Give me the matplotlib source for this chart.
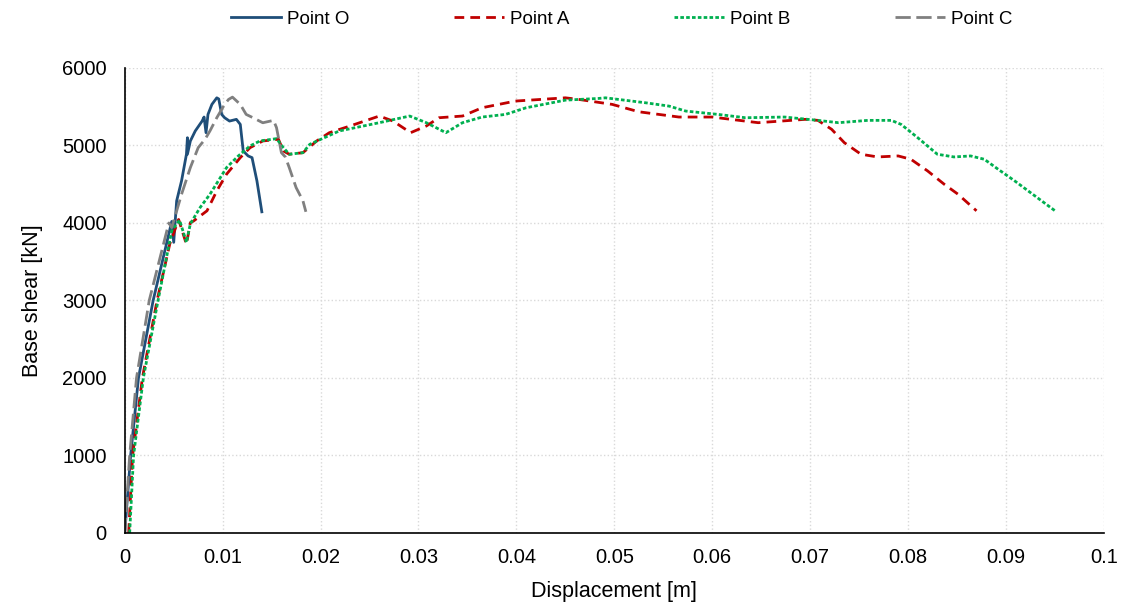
import numpy as np
import matplotlib.pyplot as plt

plt.rcParams['font.family'] = ['Liberation Sans', 'DejaVu Sans']

# Point O
o_x = [0, 0.0006, 0.0014, 0.0029, 0.0048, 0.0050, 0.0053, 0.0058, 0.0063, 0.0064, 0.0064,
       0.0067, 0.0072, 0.0079, 0.0081, 0.0083, 0.0085, 0.0089, 0.0094, 0.0096, 0.0099,
       0.0102, 0.0107, 0.0114, 0.0118, 0.0121, 0.0126, 0.0130, 0.0135, 0.0140]
o_y = [0, 1000, 2000, 3000, 4020, 3750, 4285, 4543, 4887, 5100, 4887,
       5058, 5187, 5315, 5367, 5165, 5401, 5530, 5615, 5600, 5401,
       5358, 5315, 5337, 5272, 4929, 4865, 4843, 4543, 4144]

# Point A
a_x = [0.0004, 0.0008, 0.0018, 0.0033, 0.0046, 0.0055, 0.0063, 0.0067, 0.0070, 0.0084,
       0.0094, 0.0104, 0.0118, 0.0128, 0.0141, 0.0157, 0.0162, 0.0168, 0.0182, 0.0196,
       0.0209, 0.0230, 0.0260, 0.0274, 0.0292, 0.0308, 0.0321, 0.0345, 0.0365, 0.0399,
       0.0450, 0.0464, 0.0498, 0.0525, 0.0566, 0.0600, 0.0647, 0.0695, 0.0708, 0.0722,
       0.0735, 0.0752, 0.0769, 0.0790, 0.0803, 0.0820, 0.0837, 0.0851, 0.0870]
a_y = [0, 1000, 2000, 3000, 3730, 4045, 3725, 4005, 4023, 4157,
       4414, 4630, 4843, 4972, 5058, 5080, 4929, 4887, 4907, 5058,
       5165, 5251, 5380, 5315, 5165, 5251, 5358, 5380, 5487, 5573,
       5615, 5594, 5530, 5435, 5367, 5367, 5294, 5337, 5324, 5209,
       5036, 4887, 4852, 4865, 4822, 4672, 4500, 4372, 4157]

# Point B
b_x = [0.0005, 0.0009, 0.0019, 0.0034, 0.0048, 0.0056, 0.0063, 0.0067, 0.0077, 0.0087,
       0.0104, 0.0116, 0.0128, 0.0138, 0.0155, 0.0162, 0.0168, 0.0182, 0.0189, 0.0219,
       0.0260, 0.0291, 0.0308, 0.0328, 0.0345, 0.0365, 0.0389, 0.0410, 0.0450, 0.0484,
       0.0491, 0.0532, 0.0556, 0.0573, 0.0606, 0.0634, 0.0674, 0.0708, 0.0729, 0.0759,
       0.0783, 0.0793, 0.0810, 0.0830, 0.0847, 0.0864, 0.0878, 0.0892, 0.0909, 0.0925,
       0.0951]
b_y = [0, 1000, 2000, 3000, 3900, 4037, 3750, 3990, 4200, 4370,
       4715, 4865, 4994, 5058, 5088, 4972, 4887, 4907, 5015, 5187,
       5294, 5380, 5294, 5165, 5294, 5367, 5401, 5487, 5585, 5607,
       5615, 5551, 5508, 5444, 5401, 5358, 5367, 5324, 5294, 5324,
       5324, 5272, 5100, 4887, 4852, 4865, 4822, 4694, 4543, 4393,
       4150]

# Point C
c_x = [0, 0.0005, 0.0012, 0.0025, 0.0045, 0.0048, 0.0058, 0.0067, 0.0075, 0.0082,
       0.0087, 0.0094, 0.0102, 0.0106, 0.0110, 0.0118, 0.0124, 0.0131, 0.0141, 0.0152,
       0.0155, 0.0160, 0.0164, 0.0168, 0.0175, 0.0182, 0.0185]
c_y = [0, 1000, 2000, 3000, 4000, 3940, 4370, 4715, 4972, 5080,
       5187, 5358, 5530, 5594, 5624, 5530, 5401, 5358, 5293, 5324,
       5230, 4907, 4852, 4715, 4457, 4286, 4144]

xtick_labels = ['0', '0.01', '0.02', '0.03', '0.04', '0.05', '0.06', '0.07', '0.08', '0.09', '0.1']

fig, ax = plt.subplots(figsize=(11.24, 6.07), dpi=100)
fig.subplots_adjust(left=0.111, right=0.982, bottom=0.122, top=0.888)

ax.plot(o_x, o_y, color='#1F4E79', lw=2, label='Point O')
ax.plot(a_x, a_y, color='#C00000', lw=2, dashes=(3.5, 2.2), label='Point A')
ax.plot(b_x, b_y, color='#00B050', lw=2, dashes=(1.3, 0.8), label='Point B')
ax.plot(c_x, c_y, color='#808080', lw=2, dashes=(5.5, 2), label='Point C')

ax.set_xlim(0, 0.1)
ax.set_ylim(0, 6000)
ax.set_xticks(np.arange(0, 0.101, 0.01))
ax.set_xticklabels(xtick_labels)
ax.set_yticks(np.arange(0, 6001, 1000))
ax.tick_params(length=0, labelsize=14.5)
ax.tick_params(axis='y', pad=13)
ax.tick_params(axis='x', pad=11)
ax.grid(True, color='#d9d9d9', linestyle=':', linewidth=1)
ax.set_axisbelow(True)
for s in ['top', 'right']:
    ax.spines[s].set_visible(False)
ax.spines['left'].set_linewidth(1.2)
ax.spines['bottom'].set_linewidth(1.2)

ax.set_xlabel('Displacement [m]', fontsize=15.5, labelpad=10)
ax.set_ylabel('Base shear [kN]', fontsize=15.5, labelpad=14)

fig.legend(loc='center', bbox_to_anchor=(0.553, 0.968), ncol=4, frameon=False,
           fontsize=13.5, handlelength=2.67, columnspacing=5.6, handletextpad=0.3)

fig.savefig('out.png')
